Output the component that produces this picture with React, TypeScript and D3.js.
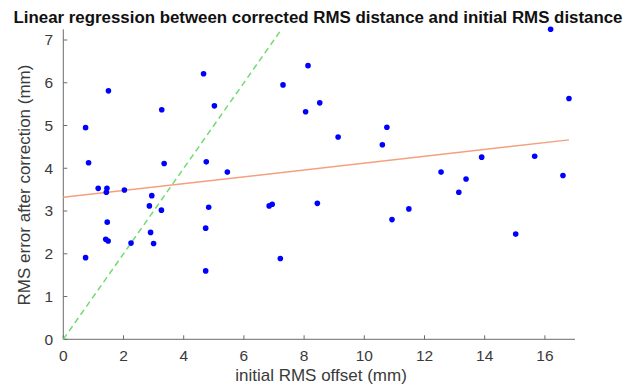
import * as d3 from "d3"

// initial RMS offset (mm) / RMS error after correction (mm)
const initialRms = [
  0.74, 0.84, 1.5, 1.16, 1.45, 1.43, 2.03, 2.94, 3.27, 3.35, 4.66, 5.02,
  4.75, 5.45, 7.3, 8.13, 8.05, 8.52, 16.19, 16.8, 9.13, 10.75, 10.6, 13.9,
  15.66, 12.55, 13.38, 13.14, 16.6, 2.86, 3.26, 2.9, 3.0, 2.25, 1.46, 1.41,
  1.49, 0.74, 4.83, 4.73, 4.73, 6.84, 6.94, 7.21, 8.44, 10.92, 11.48, 15.03,
]
const correctedRms = [
  4.95, 4.13, 5.81, 3.53, 3.53, 3.44, 3.49, 3.36, 5.37, 4.11, 6.21, 5.46,
  4.15, 3.91, 5.95, 6.4, 5.32, 5.53, 7.25, 5.63, 4.73, 4.96, 4.55, 4.26,
  4.28, 3.91, 3.75, 3.44, 3.83, 3.12, 3.02, 2.5, 2.24, 2.25, 2.74, 2.34,
  2.3, 1.91, 3.09, 2.6, 1.6, 3.12, 3.16, 1.89, 3.18, 2.8, 3.05, 2.46,
]
const xTicks = [0, 2, 4, 6, 8, 10, 12, 14, 16]
const yTicks = [0, 1, 2, 3, 4, 5, 6, 7]
const fitIntercept = 3.32
const fitSlope = 0.08
const fitRange = [0, 16.8]
const identityRange = [0, 7.25]

const W = 637
const H = 385
const FONT = "'Liberation Sans', Arial, Helvetica, sans-serif"
const AXIS = "#6b6b6b"
const TEXT = "#3a3a3a"

export default function App() {
  const x = d3.scaleLinear().domain([0, 17]).range([63.3, 575])
  const y = d3.scaleLinear().domain([0, 7.25]).range([339.3, 29.3])

  const fitPath = d3.line<number>()
    .x(d => x(d))
    .y(d => y(fitIntercept + fitSlope * d))(fitRange)
  const idPath = d3.line<number>().x(d => x(d)).y(d => y(d))(identityRange)

  const [x0, x1] = x.range()
  const [y0, y1] = y.range()

  return (
    <svg
      width={W}
      height={H}
      style={{ position: "absolute", left: 0, top: 0, background: "#fff" }}
      fontFamily={FONT}
    >
      {/* axes */}
      <line x1={x0} x2={x1} y1={y0} y2={y0} stroke={AXIS} strokeWidth={1} />
      <line x1={x0} x2={x0} y1={y0} y2={y1} stroke={AXIS} strokeWidth={1} />
      {xTicks.map(t => (
        <g key={"x" + t}>
          <line x1={x(t)} x2={x(t)} y1={y0} y2={y0 - 4} stroke={AXIS} />
          <text x={x(t)} y={361} textAnchor="middle" fontSize={15.5} fill={TEXT}>{t}</text>
        </g>
      ))}
      {yTicks.map(t => (
        <g key={"y" + t}>
          <line x1={x0} x2={x0 + 4} y1={y(t)} y2={y(t)} stroke={AXIS} />
          <text x={53} y={y(t)} dy="0.35em" textAnchor="end" fontSize={15.5} fill={TEXT}>{t}</text>
        </g>
      ))}

      {/* identity and regression lines */}
      <path d={idPath ?? ""} fill="none" stroke="#6fdc6f" strokeWidth={1.5} strokeDasharray="6,4" />
      <path d={fitPath ?? ""} fill="none" stroke="#f4a07e" strokeWidth={1.5} />

      {/* points */}
      {initialRms.map((v, i) => (
        <circle key={i} cx={x(v)} cy={y(correctedRms[i])} r={2.8} fill="#0000ff" />
      ))}

      {/* labels */}
      <text
        x={318}
        y={23}
        textAnchor="middle"
        fontSize={16}
        fontWeight="bold"
        fill="#111"
        textLength={609}
        lengthAdjust="spacingAndGlyphs"
      >
        Linear regression between corrected RMS distance and initial RMS distance
      </text>
      <text x={321} y={381} textAnchor="middle" fontSize={17} fill={TEXT}>
        initial RMS offset (mm)
      </text>
      <text
        transform={`translate(30,185) rotate(-90)`}
        textAnchor="middle"
        fontSize={17}
        fill={TEXT}
      >
        RMS error after correction (mm)
      </text>
    </svg>
  )
}
